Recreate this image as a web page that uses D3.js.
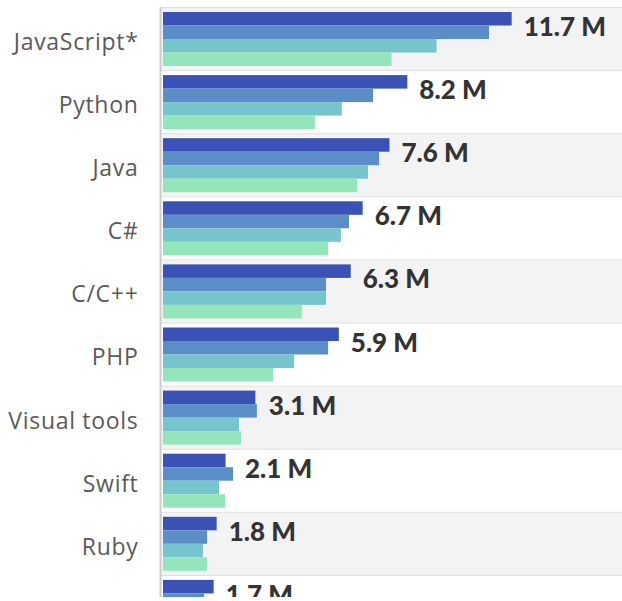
<!DOCTYPE html>
<html>
<head>
<meta charset="utf-8">
<script src="https://cdn.jsdelivr.net/npm/d3@7"></script>
<style>
  html, body { margin: 0; padding: 0; background: #ffffff; }
  svg { display: block; }
</style>
</head>
<body>
<div id="chart"></div>
<script>
// ---- data ----
const categories = ["JavaScript*", "Python", "Java", "C#", "C/C++", "PHP", "Visual tools", "Swift", "Ruby", "Kotlin"];
const seriesNames = ["Q4 2019", "Q2 2019", "Q4 2018", "Q2 2018"];
const seriesA = [11.7, 8.2, 7.6, 6.7, 6.3, 5.9, 3.1, 2.1, 1.8, 1.7];
const seriesB = [10.94, 7.05, 7.25, 6.24, 5.47, 5.54, 3.15, 2.35, 1.48, 1.38];
const seriesC = [9.18, 6.0, 6.88, 5.97, 5.47, 4.40, 2.55, 1.88, 1.34, 1.25];
const seriesD = [7.67, 5.1, 6.51, 5.54, 4.66, 3.69, 2.62, 2.08, 1.48, 1.35];
const valueLabels = ["11.7 M", "8.2 M", "7.6 M", "6.7 M", "6.3 M", "5.9 M", "3.1 M", "2.1 M", "1.8 M", "1.7 M"];
const colors = ["#3a51b6", "#5b8dc6", "#77c5cc", "#95e5bb"];

const allSeries = [seriesA, seriesB, seriesC, seriesD];

const W = 622, H = 597;
const svg = d3.select("#chart").append("svg").attr("width", W).attr("height", H);

const bandTop = 8, bandStep = 63.1;
const y = d3.scaleBand().domain(categories)
  .range([bandTop, bandTop + bandStep * categories.length]).paddingInner(0).paddingOuter(0);
const x = d3.scaleLinear().domain([0, 12]).range([163, 163 + 12 * 29.8]);
const inner = d3.scaleBand().domain(seriesNames).range([4, 58]).padding(0);

// background bands
svg.append("g").selectAll("rect").data(categories).join("rect")
  .attr("x", 160).attr("width", W - 160)
  .attr("y", d => y(d)).attr("height", y.bandwidth())
  .attr("fill", (d, i) => i % 2 === 0 ? "#f3f3f3" : "#ffffff");

// separators
svg.append("g").selectAll("line").data(categories).join("line")
  .attr("x1", 160).attr("x2", W)
  .attr("y1", d => y(d) - 0.5).attr("y2", d => y(d) - 0.5)
  .attr("stroke", "#e0e0e0").attr("stroke-width", 1);

// bars
const groups = svg.append("g").selectAll("g").data(categories).join("g")
  .attr("transform", d => `translate(0,${y(d)})`);
groups.selectAll("rect").data((c, i) => seriesNames.map((s, k) => ({ s, k, v: allSeries[k][i] })))
  .join("rect")
  .attr("x", x(0))
  .attr("y", d => inner(d.s))
  .attr("height", inner.bandwidth())
  .attr("width", d => x(d.v) - x(0))
  .attr("fill", d => colors[d.k]);

// value labels
svg.append("g").selectAll("text").data(categories).join("text")
  .attr("x", (d, i) => x(Math.max(seriesA[i], seriesB[i])) + 12)
  .attr("y", d => y(d) + 28)
  .attr("font-family", "Lato, 'Open Sans', sans-serif")
  .attr("font-weight", 900)
  .attr("font-size", 26)
  .attr("fill", "#333333")
  .text((d, i) => valueLabels[i]);

// axis (category labels)
const axis = d3.axisLeft(y).tickSize(0).tickPadding(0);
const ag = svg.append("g").attr("transform", "translate(138.5,0)").call(axis);
ag.select(".domain").remove();
ag.selectAll("text")
  .attr("font-family", "'Open Sans', sans-serif")
  .attr("font-size", 23)
  .attr("letter-spacing", "0.7px")
  .attr("fill", "#5a5a5a")
  .attr("dy", "0.45em");

// vertical axis line
svg.append("line")
  .attr("x1", 160.5).attr("x2", 160.5)
  .attr("y1", 7).attr("y2", H)
  .attr("stroke", "#cccccc").attr("stroke-width", 2);
</script>
</body>
</html>
